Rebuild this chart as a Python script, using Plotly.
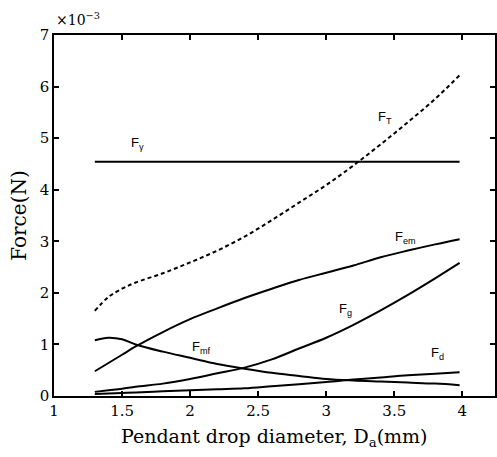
import plotly.graph_objects as go

# Pendant drop diameter (mm)
diameter = [1.3, 1.4, 1.5, 1.6, 1.8, 2.0, 2.2, 2.4, 2.6, 2.8, 3.0, 3.2, 3.4, 3.6, 3.8, 3.98]

# Forces (x 1e-3 N)
F_T  = [1.65, 1.92, 2.08, 2.20, 2.38, 2.59, 2.82, 3.09, 3.41, 3.75, 4.09, 4.47, 4.88, 5.31, 5.76, 6.22]
F_gamma = [4.54] * len(diameter)
F_em = [0.48, 0.64, 0.80, 0.96, 1.24, 1.49, 1.70, 1.90, 2.08, 2.25, 2.39, 2.53, 2.69, 2.82, 2.94, 3.04]
F_g  = [0.08, 0.11, 0.14, 0.18, 0.24, 0.33, 0.44, 0.55, 0.71, 0.92, 1.13, 1.38, 1.66, 1.96, 2.28, 2.58]
F_mf = [1.08, 1.13, 1.10, 1.00, 0.86, 0.74, 0.62, 0.53, 0.45, 0.39, 0.33, 0.30, 0.28, 0.26, 0.24, 0.21]
F_d  = [0.04, 0.05, 0.06, 0.07, 0.09, 0.11, 0.13, 0.15, 0.19, 0.23, 0.27, 0.32, 0.36, 0.40, 0.43, 0.46]

# Curve labels: (text, x, y)
labels = [
    ("F<sub>γ</sub>", 1.61, 4.9),
    ("F<sub>T</sub>", 3.43, 5.41),
    ("F<sub>em</sub>", 3.58, 3.08),
    ("F<sub>g</sub>", 3.14, 1.67),
    ("F<sub>mf</sub>", 2.08, 0.95),
    ("F<sub>d</sub>", 3.82, 0.83),
]

x_ticks = [1, 1.5, 2, 2.5, 3, 3.5, 4]
y_ticks = [0, 1, 2, 3, 4, 5, 6, 7]

fig = go.Figure()
line = dict(color="black", width=2)
fig.add_trace(go.Scatter(x=diameter, y=F_T, mode="lines", line_shape="spline",
                         line=dict(color="black", width=2, dash="4px,3px")))
for ys in [F_gamma, F_em, F_g, F_mf, F_d]:
    fig.add_trace(go.Scatter(x=diameter, y=ys, mode="lines", line_shape="spline", line=line))

serif = "DejaVu Serif"
for t, x, y in labels:
    fig.add_annotation(x=x, y=y, text=t, showarrow=False,
                       font=dict(family="Liberation Sans", size=13, color="black"))

fig.add_annotation(xref="paper", yref="paper", x=0.0, y=1.0, xanchor="left", yanchor="bottom",
                   yshift=5, text="×10<sup>−3</sup>", showarrow=False,
                   font=dict(family=serif, size=14, color="black"))
fig.add_annotation(xref="paper", yref="paper", x=0.5, y=-0.1136, xanchor="center", yanchor="middle",
                   text="Pendant drop diameter, D<sub>a</sub>(mm)", showarrow=False,
                   font=dict(family=serif, size=19, color="black"))
fig.add_annotation(xref="paper", yref="paper", x=-0.081, y=0.5, xanchor="center", yanchor="middle",
                   text="Force(N)", textangle=-90, showarrow=False,
                   font=dict(family=serif, size=20, color="black"))

axis_common = dict(showline=True, linecolor="black", linewidth=1.5, mirror="ticks",
                   ticks="inside", ticklen=5, tickcolor="black", tickwidth=1.5,
                   showgrid=False, zeroline=False,
                   tickfont=dict(family=serif, size=15, color="black"))
fig.update_xaxes(range=[1, 4.24], tickvals=x_ticks, ticktext=[str(v) for v in x_ticks], **axis_common)
fig.update_yaxes(range=[0, 7], tickvals=y_ticks, ticktext=[str(v) for v in y_ticks], **axis_common)

fig.update_layout(width=497, height=457, showlegend=False,
                  margin=dict(l=54, r=0, t=35, b=61),
                  plot_bgcolor="white", paper_bgcolor="white")

fig.write_html("out.html")
